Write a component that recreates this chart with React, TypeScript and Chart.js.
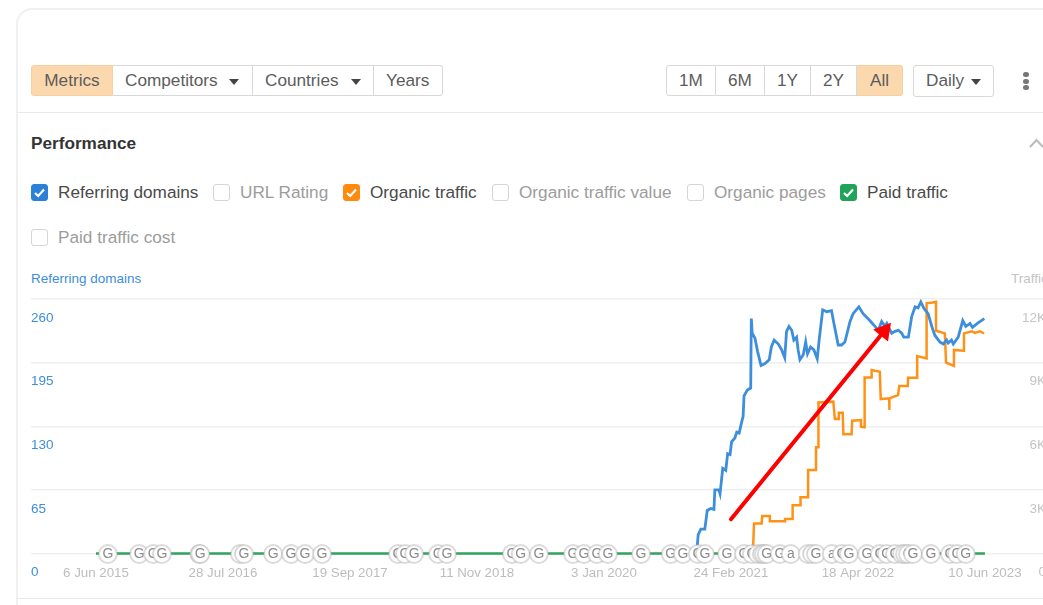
import React, { useEffect, useRef } from "react";
import { Chart, registerables } from "chart.js";

Chart.register(...registerables);

// x values are days since 6 Jun 2015
const tickDays = [0, 418, 836, 1254, 1672, 2090, 2508, 2926];
const tickLabels = ["6 Jun 2015", "28 Jul 2016", "19 Sep 2017", "11 Nov 2018", "3 Jan 2020", "24 Feb 2021", "18 Apr 2022", "10 Jun 2023"];

const refDays = [1972, 1979, 1982, 1991, 2004, 2012, 2023, 2034, 2037, 2050, 2054, 2063, 2073, 2079, 2087, 2092, 2103, 2109, 2117, 2125, 2130, 2133, 2144, 2155, 2157, 2160, 2169, 2178, 2189, 2202, 2216, 2223, 2232, 2246, 2257, 2267, 2273, 2281, 2290, 2297, 2306, 2311, 2317, 2328, 2336, 2342, 2352, 2363, 2374, 2381, 2392, 2405, 2421, 2429, 2443, 2454, 2465, 2482, 2492, 2511, 2525, 2547, 2564, 2575, 2586, 2597, 2603, 2619, 2630, 2641, 2652, 2659, 2674, 2685, 2696, 2706, 2715, 2726, 2739, 2751, 2761, 2778, 2789, 2800, 2805, 2816, 2822, 2838, 2853, 2863, 2877, 2885, 2901, 2924];
const refValues = [0, 7, 19, 25, 25, 44, 46, 45, 65, 65, 61, 87, 85, 102, 101, 114, 118, 124, 123, 134, 140, 161, 167, 169, 240, 225, 220, 206, 192, 194, 198, 211, 218, 214, 208, 200, 227, 232, 228, 218, 221, 208, 198, 203, 216, 204, 211, 208, 199, 220, 249, 247, 248, 235, 213, 213, 216, 237, 245, 252, 245, 238, 232, 228, 237, 232, 235, 225, 227, 228, 225, 221, 221, 242, 252, 251, 257, 250, 245, 232, 223, 216, 214, 218, 215, 218, 214, 221, 238, 232, 235, 231, 235, 240];

const organicDays = [2162, 2166, 2191, 2193, 2218, 2218, 2268, 2268, 2293, 2293, 2319, 2319, 2344, 2344, 2370, 2370, 2377, 2378, 2427, 2432, 2445, 2445, 2458, 2460, 2487, 2489, 2518, 2518, 2528, 2530, 2553, 2553, 2580, 2583, 2611, 2611, 2612, 2640, 2644, 2672, 2673, 2703, 2703, 2734, 2734, 2754, 2765, 2765, 2794, 2798, 2824, 2824, 2855, 2857, 2883, 2893, 2909, 2923];
const organicValues = [0, 1420, 1420, 1770, 1770, 1520, 1520, 1630, 1630, 2280, 2280, 2650, 2650, 3940, 3940, 5010, 5010, 7120, 7160, 6340, 6340, 6640, 6640, 5620, 5620, 6260, 6290, 5980, 5950, 8300, 8300, 8650, 8570, 7280, 7320, 6770, 7320, 7470, 7900, 7900, 8290, 8290, 9310, 9200, 11800, 11840, 11870, 10500, 10380, 9000, 8850, 9600, 9560, 10380, 10480, 10400, 10480, 10380];

const paidDays = [0, 2926];
const paidValues = [0, 0];

const updateDays = [39, 142, 188, 217, 340, 343, 474, 487, 583, 642, 688, 744, 994, 1017, 1047, 1126, 1155, 1369, 1398, 1458, 1570, 1606, 1649, 1685, 1794, 1892, 1932, 1981, 2004, 2077, 2133, 2159, 2179, 2192, 2199, 2208, 2251, 2287, 2343, 2357, 2370, 2422, 2455, 2478, 2538, 2580, 2603, 2630, 2653, 2663, 2673, 2689, 2748, 2811, 2834, 2863];
const updateLabels = updateDays.map((d) => (d === 2287 || d === 2422 ? "a" : "G"));

const arrowDays = [2090, 2594];
const arrowValues = [35, 227];

const leftTickStep = 65;
const rightTickStep = 3000;

const FONT = '"Liberation Sans", Arial, sans-serif';

const toPoints = (xs: number[], ys: number[]) => xs.map((x, i) => ({ x, y: ys[i] }));

const updateBadges = {
  id: "updateBadges",
  afterDatasetsDraw(chart: any) {
    const idx = chart.data.datasets.findIndex((d: any) => d.label === "Google updates");
    const meta = chart.getDatasetMeta(idx);
    const ctx = chart.ctx;
    ctx.save();
    meta.data.forEach((el: any, i: number) => {
      ctx.beginPath();
      ctx.arc(el.x, el.y + 0.5, 9, 0, Math.PI * 2);
      ctx.fillStyle = "#ffffff";
      ctx.fill();
      ctx.lineWidth = 2;
      ctx.strokeStyle = "rgba(170,170,170,0.42)";
      ctx.stroke();
      ctx.fillStyle = "#8c8c8c";
      ctx.font = `14px ${FONT}`;
      ctx.textAlign = "center";
      ctx.textBaseline = "middle";
      ctx.fillText(updateLabels[i], el.x, el.y + 1);
    });
    ctx.restore();
  },
};

const abs = (left: number, top: number, extra: React.CSSProperties = {}): React.CSSProperties => ({
  position: "absolute",
  left,
  top,
  ...extra,
});

function Btn({ left, width, label, active, textLeft, caret, first, last }: any) {
  return (
    <div
      style={abs(left, 65, {
        width,
        height: 31,
        boxSizing: "border-box",
        background: active ? "#fbd8ae" : "#fff",
        border: `1px solid ${active ? "#f6d0a2" : "#d8d8d8"}`,
        borderLeftWidth: first ? 1 : 0,
        borderRadius: first ? "3px 0 0 3px" : last ? "0 3px 3px 0" : 0,
        color: "#5c5c5c",
        fontSize: 17.2,
        lineHeight: "29px",
        textAlign: textLeft === undefined ? "center" : "left",
        paddingLeft: textLeft === undefined ? 0 : textLeft,
      })}
    >
      {label}
      {caret !== undefined && <Caret left={caret} />}
    </div>
  );
}

function Caret({ left }: { left: number }) {
  return (
    <span
      style={abs(left, 13, {
        width: 0,
        height: 0,
        borderLeft: "5px solid transparent",
        borderRight: "5px solid transparent",
        borderTop: "6px solid #444",
      })}
    />
  );
}

function Check({ left, top, label, color }: { left: number; top: number; label: string; color?: string }) {
  return (
    <>
      <div
        style={abs(left, top, {
          width: 17,
          height: 17,
          boxSizing: "border-box",
          borderRadius: 3,
          background: color || "#fff",
          border: color ? `1px solid ${color}` : "1px solid #d5d5d5",
        })}
      >
        {color && (
          <svg width="15" height="15" viewBox="0 0 15 15" style={{ display: "block" }}>
            <polyline points="3,8 6.2,11 12,4.5" fill="none" stroke="#fff" strokeWidth="2.2" />
          </svg>
        )}
      </div>
      <div
        style={abs(left + 27, top - 2, {
          fontSize: 17.2,
          lineHeight: "21px",
          color: color ? "#4a4a4a" : "#9c9c9c",
          whiteSpace: "nowrap",
        })}
      >
        {label}
      </div>
    </>
  );
}

export default function App() {
  const ref = useRef<HTMLCanvasElement>(null);

  useEffect(() => {
    const prevMargin = document.body.style.margin;
    document.body.style.margin = "0";
    const chart = new Chart(ref.current as HTMLCanvasElement, {
      type: "line",
      data: {
        datasets: [
          {
            label: "Arrow",
            data: toPoints(arrowDays, arrowValues),
            yAxisID: "y",
            borderColor: "#ff0000",
            backgroundColor: "#ff0000",
            borderWidth: 4,
            borderCapStyle: "round",
            pointStyle: "triangle",
            pointRadius: [0, 11],
            pointRotation: 39,
            pointBorderWidth: 0,
          },
          {
            label: "Google updates",
            data: updateDays.map((x) => ({ x, y: 0 })),
            yAxisID: "y",
            showLine: false,
            pointRadius: 0,
          },
          {
            label: "Referring domains",
            data: toPoints(refDays, refValues),
            yAxisID: "y",
            borderColor: "#3d8edb",
            borderWidth: 2.8,
            pointRadius: 0,
            tension: 0,
          },
          {
            label: "Organic traffic",
            data: toPoints(organicDays, organicValues),
            yAxisID: "y1",
            borderColor: "#ff9216",
            borderWidth: 2.5,
            pointRadius: 0,
            tension: 0,
          },
          {
            label: "Paid traffic",
            data: toPoints(paidDays, paidValues),
            yAxisID: "y1",
            borderColor: "#2fa35c",
            borderWidth: 2.5,
            pointRadius: 0,
            clip: false,
          },
        ],
      } as any,
      options: {
        responsive: false,
        animation: false,
        events: [],
        layout: { padding: { left: 31, right: 14, top: 299, bottom: 0 } },
        plugins: { legend: { display: false }, tooltip: { enabled: false } },
        scales: {
          x: {
            type: "linear",
            min: -214,
            max: 3127,
            afterFit: (s: any) => {
              s.height = 51.5;
            },
            afterBuildTicks: (s: any) => {
              s.ticks = tickDays.map((value) => ({ value }));
            },
            grid: { display: false },
            border: { display: false },
            ticks: {
              autoSkip: false,
              maxRotation: 0,
              padding: 4,
              color: "#bdbdbd",
              font: { family: FONT, size: 13.3 },
              callback: (v: any) => tickLabels[tickDays.indexOf(Number(v))],
            },
          },
          y: {
            position: "left",
            min: 0,
            max: 260,
            afterFit: (s: any) => {
              s.width = 0;
            },
            grid: { color: "#efefef", lineWidth: 1.5, drawTicks: false },
            border: { display: false },
            ticks: {
              stepSize: leftTickStep,
              mirror: true,
              padding: 0,
              labelOffset: 19,
              color: "#3d8edb",
              font: { family: FONT, size: 13.5 },
            },
          },
          y1: {
            position: "right",
            min: 0,
            max: 12000,
            afterFit: (s: any) => {
              s.width = 0;
            },
            grid: { display: false, drawTicks: false },
            border: { display: false },
            ticks: {
              stepSize: rightTickStep,
              mirror: true,
              padding: 0,
              labelOffset: 19,
              color: "#c4c4c4",
              font: { family: FONT, size: 13.5 },
              callback: (v: any) => (Number(v) === 0 ? "0" : `${Number(v) / 1000}K`),
            },
          },
        },
      } as any,
      plugins: [updateBadges],
    });
    return () => {
      chart.destroy();
      document.body.style.margin = prevMargin;
    };
  }, []);

  return (
    <div
      style={{
        position: "fixed",
        left: 0,
        top: 0,
        width: 1043,
        height: 605,
        overflow: "hidden",
        background: "#fff",
        fontFamily: FONT,
      }}
    >
      <div
        style={abs(16, 8, {
          width: 1200,
          height: 800,
          boxSizing: "border-box",
          border: "2px solid #f0f0f0",
          borderRadius: 16,
        })}
      />
      <div style={abs(18, 112, { width: 1030, height: 1, background: "#e9e9e9" })} />
      <div style={abs(18, 598, { width: 1030, height: 1, background: "#e9e9e9" })} />

      <Btn left={31} width={82} label="Metrics" active first />
      <Btn left={113} width={140} label="Competitors" textLeft={12} caret={116} />
      <Btn left={253} width={121} label="Countries" textLeft={12} caret={98} />
      <Btn left={374} width={69} label="Years" textLeft={12} last />

      <Btn left={666} width={50} label="1M" first />
      <Btn left={716} width={49} label="6M" />
      <Btn left={765} width={46} label="1Y" />
      <Btn left={811} width={46} label="2Y" />
      <Btn left={857} width={46} label="All" active last />

      <div
        style={abs(913, 65, {
          width: 81,
          height: 32,
          boxSizing: "border-box",
          border: "1px solid #d8d8d8",
          borderRadius: 3,
          color: "#5c5c5c",
          fontSize: 17.2,
          lineHeight: "29px",
          paddingLeft: 12,
        })}
      >
        Daily
        <Caret left={57} />
      </div>
      {[74, 81, 87].map((t) => (
        <div key={t} style={abs(1023, t - 2.5, { width: 5.5, height: 5.5, borderRadius: 3, background: "#777" })} />
      ))}

      <div style={abs(31, 133, { fontSize: 17.2, lineHeight: "21px", fontWeight: 700, color: "#333" })}>Performance</div>
      <svg style={abs(1029, 137, {})} width="14" height="12" viewBox="0 0 14 12">
        <polyline points="1,10 7.5,3 14,10" fill="none" stroke="#bbb" strokeWidth="2" />
      </svg>

      <Check left={31} top={184} label="Referring domains" color="#2b80d8" />
      <Check left={213} top={184} label="URL Rating" />
      <Check left={343} top={184} label="Organic traffic" color="#ff8a0d" />
      <Check left={492} top={184} label="Organic traffic value" />
      <Check left={687} top={184} label="Organic pages" />
      <Check left={840} top={184} label="Paid traffic" color="#21a45a" />
      <Check left={31} top={229} label="Paid traffic cost" />

      <div style={abs(31, 271, { fontSize: 13.5, lineHeight: "16px", color: "#3d8edb", whiteSpace: "nowrap" })}>Referring domains</div>
      <div style={abs(1011, 271, { fontSize: 13.5, lineHeight: "16px", color: "#c4c4c4", whiteSpace: "nowrap" })}>Traffic</div>

      <canvas ref={ref} width={1060} height={605} style={abs(0, 0, { display: "block" })} />
    </div>
  );
}
